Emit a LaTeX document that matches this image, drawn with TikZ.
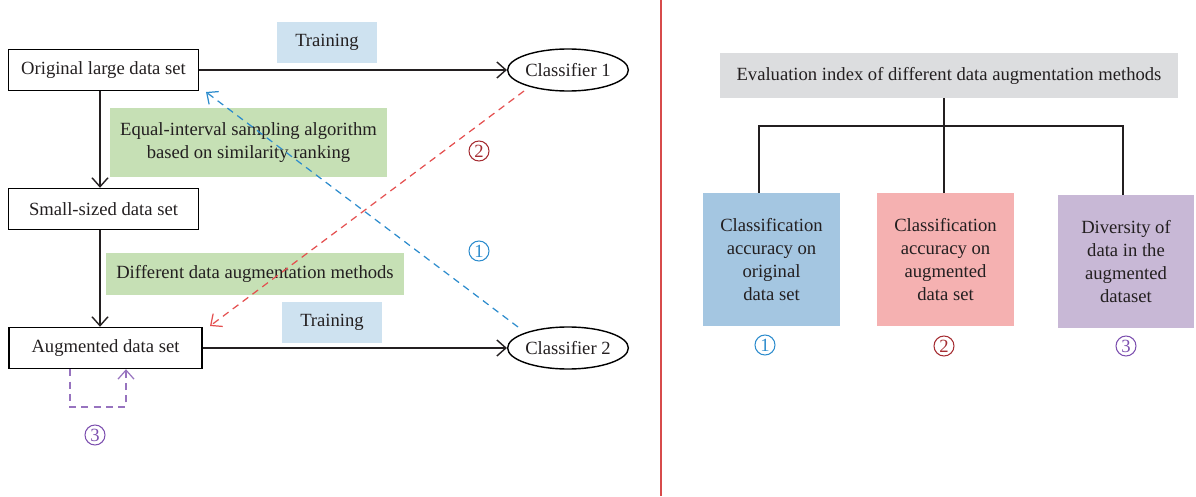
\documentclass[tikz,border=0pt]{standalone}
\usepackage{fontspec}
\setmainfont{Liberation Serif}
\usepackage{tikz}
\usetikzlibrary{arrows.meta}
\usetikzlibrary{shapes.geometric}
\definecolor{txt}{RGB}{35,31,32}
\definecolor{trainblue}{RGB}{206,226,240}
\definecolor{algogreen}{RGB}{198,224,181}
\definecolor{evalgrey}{RGB}{220,221,223}
\definecolor{boxblue}{RGB}{164,198,225}
\definecolor{boxpink}{RGB}{245,177,177}
\definecolor{boxpurple}{RGB}{200,184,214}
\definecolor{dashblue}{RGB}{45,140,205}
\definecolor{dashred}{RGB}{228,80,80}
\definecolor{numred}{RGB}{165,45,50}
\definecolor{numpurple}{RGB}{125,80,175}
\definecolor{divred}{RGB}{215,75,75}

\begin{document}
\begin{tikzpicture}[font=\fontsize{10.6}{13}\selectfont, text=txt,
	databox/.style = {draw, line width=0.8pt, minimum width=3.8cm, minimum height=0.82cm},
	clsnode/.style = {draw, ellipse, line width=0.8pt, minimum width=2.4cm, minimum height=0.84cm, inner sep=0pt},
	tag/.style = {minimum height=0.82cm, align=center},
	num/.style = {draw, circle, line width=0.6pt, minimum size=0.4cm, inner sep=0pt},
	crit/.style = {minimum width=2.74cm, minimum height=2.66cm, align=center},
	tip/.style = {-{Straight Barb[length=1.8mm,width=3.2mm]}}]
				\useasboundingbox (0,0) rectangle (23.92,9.92);
				\begin{scope}[every node/.style={databox}]
					\node (orig) at (2.07,8.52) {Original large data set};
					\node (small) at (2.07,5.74) {Small-sized data set};
					\node (aug) at (2.11,2.96) [minimum width=3.86cm] {Augmented data set};
				\end{scope}
				\begin{scope}[every node/.style={clsnode}]
					\node (cls1) at (11.36,8.52) {Classifier 1};
					\node (cls2) at (11.36,2.96) {Classifier 2};
				\end{scope}
				\node[tag, fill=trainblue, minimum width=2cm] (train1) at (6.54,9.07) {Training};
				\node[tag, fill=trainblue, minimum width=2cm] (train2) at (6.64,3.48) {Training};
				\node[tag, fill=algogreen, minimum width=5.54cm, minimum height=1.38cm] (sampling) at (4.97,7.07) {Equal-interval sampling algorithm\\based on similarity ranking};
				\node[tag, fill=algogreen, minimum width=5.96cm, minimum height=0.84cm] (augment) at (5.10,4.44) {Different data augmentation methods};
				\draw [line width=0.8pt, txt, tip] (orig.east) -- (cls1.west);
				\draw [line width=0.8pt, txt, tip] (aug.east) -- (cls2.west);
				\draw [line width=0.8pt, txt, tip] (orig.south -| 2.0,0) -- (small.north -| 2.0,0);
				\draw [line width=0.8pt, txt, tip] (small.south -| 2.0,0) -- (aug.north -| 2.0,0);
				\coordinate (b1) at (10.36,3.38);
				\coordinate (b2) at (4.12,8.08);
				\coordinate (r1) at (10.48,8.10);
				\coordinate (r2) at (4.20,3.40);
				\draw [dashblue, line width=0.7pt, dash pattern=on 4pt off 3pt, tip] (b1) -- (b2);
				\draw [dashred, line width=0.7pt, dash pattern=on 4pt off 3pt, tip] (r1) -- (r2);
				\coordinate (l3a) at (1.40,1.78);
				\coordinate (l3b) at (2.52,1.78);
				\draw [numpurple!80, line width=0.7pt, dash pattern=on 4pt off 3pt, tip] (aug.south -| l3a) -- (l3a) -- (l3b) -- (aug.south -| l3b);
				\node[num, dashblue] (n1) at (9.58,4.90) {1};
				\node[num, numred] (n2) at (9.58,6.90) {2};
				\node[num, numpurple] (n3) at (1.90,1.22) {3};
				\draw [divred, line width=0.8pt] (13.22,0) -- (13.22,9.92);
				\node[fill=evalgrey, minimum width=9.16cm, minimum height=0.9cm] (eval) at (18.98,8.41) {Evaluation index of different data augmentation methods};
				\node[crit, fill=boxblue] (accorig) at (15.43,4.73) {Classification\\accuracy on\\original\\data set};
				\node[crit, fill=boxpink] (accaug) at (18.91,4.73) {Classification\\accuracy on\\augmented\\data set};
				\node[crit, fill=boxpurple, minimum width=2.72cm] (divers) at (22.52,4.69) {Diversity of\\data in the\\augmented\\dataset};
				\coordinate (split) at (18.88,7.40);
				\draw [line width=0.7pt, txt] (eval.south -| split) -- (split);
				\draw [line width=0.7pt, txt] (accorig.north -| 15.18,0) |- (split) -| (accaug.north -| 18.88,0);
				\draw [line width=0.7pt, txt] (split) -| (divers.north -| 22.46,0);
				\node[num, dashblue] (m1) at (15.30,3.02) {1};
				\node[num, numred] (m2) at (18.88,3.00) {2};
				\node[num, numpurple] (m3) at (22.52,3.00) {3};
			\end{tikzpicture}
\end{document}
